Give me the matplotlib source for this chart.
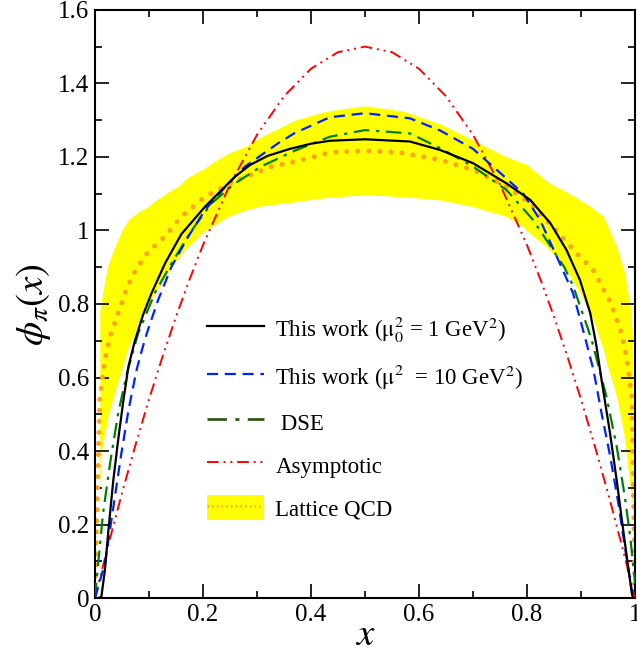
import matplotlib
matplotlib.use("Agg")
import matplotlib.pyplot as plt
from matplotlib.lines import Line2D
from matplotlib.patches import Patch

plt.rcParams['font.family'] = ['Liberation Serif', 'DejaVu Serif']
plt.rcParams['mathtext.fontset'] = 'stix'

# Lattice QCD band (upper / lower edges)
band_x = [0.009, 0.012, 0.0185, 0.025, 0.037, 0.05, 0.062, 0.08, 0.099, 0.111, 0.142, 0.154, 0.173, 0.204,
          0.216, 0.247, 0.278, 0.309, 0.37, 0.43, 0.5, 0.57, 0.639, 0.70, 0.762, 0.793, 0.799, 0.836, 0.843,
          0.873, 0.898, 0.923, 0.935, 0.941, 0.947, 0.966, 0.981, 0.991, 0.995]
band_hi = [0.78, 0.81, 0.865, 0.91, 0.956, 1.0, 1.029, 1.05, 1.065, 1.08, 1.11, 1.12, 1.145, 1.17,
           1.183, 1.21, 1.228, 1.255, 1.30, 1.325, 1.339, 1.325, 1.29, 1.246, 1.20, 1.183, 1.18, 1.135, 1.128,
           1.105, 1.083, 1.06, 1.045, 1.038, 1.02, 0.956, 0.884, 0.793, 0.72]
band_lo = [0.30, 0.40, 0.45, 0.50, 0.56, 0.625, 0.684, 0.738, 0.80, 0.83, 0.902, 0.925, 0.956, 1.0,
           1.01, 1.038, 1.055, 1.067, 1.078, 1.09, 1.097, 1.092, 1.083, 1.065, 1.038, 1.01, 1.0, 0.956, 0.945,
           0.893, 0.83, 0.756, 0.702, 0.68, 0.64, 0.548, 0.43, 0.30, 0.25]

# Lattice QCD central value
lat_x = [0.0, 0.009, 0.0185, 0.029, 0.043, 0.059, 0.077, 0.099, 0.13, 0.16, 0.204, 0.259, 0.327, 0.37, 0.435, 0.5,
         0.565, 0.639, 0.70, 0.762, 0.806, 0.848, 0.892, 0.922, 0.954, 0.975, 0.985, 0.994, 1.0]
lat_y = [0.0, 0.544, 0.65, 0.716, 0.775, 0.843, 0.897, 0.943, 0.984, 1.038, 1.092, 1.134, 1.174, 1.187, 1.212, 1.217,
         1.212, 1.192, 1.165, 1.12, 1.074, 1.01, 0.938, 0.893, 0.806, 0.72, 0.65, 0.545, 0.0]

# Asymptotic DA
asy_x = [0.0, 0.025, 0.05, 0.075, 0.1, 0.125, 0.15, 0.175, 0.2, 0.25, 0.3, 0.35, 0.4, 0.45, 0.5,
         0.55, 0.6, 0.65, 0.7, 0.75, 0.8, 0.825, 0.85, 0.875, 0.9, 0.925, 0.95, 0.975, 1.0]
asy_y = [0.0, 0.146, 0.285, 0.416, 0.54, 0.656, 0.765, 0.866, 0.96, 1.125, 1.26, 1.365, 1.44, 1.485, 1.5,
         1.485, 1.44, 1.365, 1.26, 1.125, 0.96, 0.866, 0.765, 0.656, 0.54, 0.416, 0.285, 0.146, 0.0]

# This work, mu0^2 = 1 GeV^2
w1_x = [0.0, 0.006, 0.012, 0.0185, 0.025, 0.034, 0.043, 0.052, 0.062, 0.074, 0.089, 0.105, 0.13, 0.16, 0.204,
        0.259, 0.287, 0.32, 0.361, 0.40, 0.435, 0.5, 0.583, 0.639, 0.70, 0.762, 0.806, 0.843, 0.873, 0.898,
        0.917, 0.928, 0.938, 0.954, 0.966, 0.978, 0.988, 0.994, 0.996, 1.0]
w1_y = [0.0, 0.0, 0.004, 0.076, 0.185, 0.32, 0.43, 0.53, 0.63, 0.70, 0.77, 0.83, 0.911, 0.99, 1.065,
        1.146, 1.178, 1.203, 1.222, 1.236, 1.244, 1.248, 1.242, 1.219, 1.183, 1.128, 1.083, 1.02, 0.947, 0.865,
        0.775, 0.69, 0.593, 0.445, 0.32, 0.185, 0.076, 0.013, 0.0, 0.0]

# This work, mu^2 = 10 GeV^2
w10_x = [0.0, 0.0185, 0.037, 0.049, 0.062, 0.077, 0.087, 0.096, 0.117, 0.142, 0.173, 0.204, 0.247, 0.278, 0.34,
         0.37, 0.435, 0.5, 0.583, 0.639, 0.70, 0.75, 0.793, 0.824, 0.855, 0.885, 0.907, 0.923, 0.938,
         0.954, 0.969, 0.981, 0.994, 1.0]
w10_y = [0.0, 0.094, 0.276, 0.394, 0.51, 0.62, 0.675, 0.72, 0.811, 0.902, 0.984, 1.056, 1.128, 1.174, 1.238,
         1.265, 1.308, 1.319, 1.305, 1.272, 1.222, 1.157, 1.10, 1.029, 0.929, 0.83, 0.711, 0.62, 0.502,
         0.385, 0.258, 0.14, 0.02, 0.0]

# DSE
dse_x = [0.0, 0.006, 0.015, 0.028, 0.043, 0.059, 0.080, 0.111, 0.142, 0.179, 0.216, 0.259, 0.309, 0.37,
         0.435, 0.5, 0.583, 0.639, 0.70, 0.762, 0.811, 0.848, 0.869, 0.885, 0.911, 0.92, 0.947, 0.966, 0.981,
         0.991, 1.0]
dse_y = [0.0, 0.094, 0.23, 0.366, 0.502, 0.61, 0.72, 0.83, 0.911, 1.0, 1.074, 1.128, 1.175, 1.217,
         1.255, 1.273, 1.264, 1.224, 1.174, 1.11, 1.029, 0.947, 0.90, 0.85, 0.74, 0.70, 0.548, 0.412, 0.276,
         0.167, 0.04]

labels = ["This work ($\\mathrm{\\mu_0^2}$ = 1 GeV$^2$)",
          "This work ($\\mathrm{\\mu^2}$  = 10 GeV$^2$)",
          " DSE", "Asymptotic", "Lattice QCD"]

fig = plt.figure(figsize=(6.37, 6.58), dpi=100)
ax = fig.add_axes([0.149, 0.091, 0.848, 0.894])

ax.fill_between(band_x, band_lo, band_hi, color='#ffff00', lw=0, zorder=1)
l_lat, = ax.plot(lat_x, lat_y, color='#ffa31a', lw=3.6, linestyle=(0, (0.01, 2.2)),
                 dash_capstyle='round', zorder=2)
l_asy, = ax.plot(asy_x, asy_y, color='#ff0000', lw=1.4, linestyle=(0, (6, 2.5, 1, 2.5, 1, 2.5)), zorder=3)
l_dse, = ax.plot(dse_x, dse_y, color='#008000', lw=1.6, linestyle=(0, (7, 3, 1.5, 3)), zorder=4)
l_10, = ax.plot(w10_x, w10_y, color='#0022ff', lw=1.6, linestyle=(0, (5, 3)), zorder=5)
l_1, = ax.plot(w1_x, w1_y, color='black', lw=1.6, zorder=6)

ax.set_xlim(0, 1)
ax.set_ylim(0, 1.6)
ax.set_xticks([0, 0.2, 0.4, 0.6, 0.8, 1.0])
ax.set_xticklabels(['0', '0.2', '0.4', '0.6', '0.8', '1'])
ax.set_yticks([0, 0.2, 0.4, 0.6, 0.8, 1.0, 1.2, 1.4, 1.6])
ax.set_yticklabels(['0', '0.2', '0.4', '0.6', '0.8', '1', '1.2', '1.4', '1.6'])
ax.set_xticks([0.1, 0.3, 0.5, 0.7, 0.9], minor=True)
ax.set_yticks([0.1, 0.3, 0.5, 0.7, 0.9, 1.1, 1.3, 1.5], minor=True)
ax.tick_params(which='both', direction='in', top=True, right=True, labelsize=18)
ax.tick_params(which='major', length=10, width=1.2, pad=4)
ax.tick_params(which='minor', length=5, width=1.2)
for s in ax.spines.values():
    s.set_linewidth(1.5)

ax.set_xlabel('$x$', fontsize=28, labelpad=-6)
ax.set_ylabel('$\\phi_\\pi(x)$', fontsize=28, labelpad=4)

h_lat = (Patch(facecolor='#ffff00', edgecolor='none'),
         Line2D([], [], color='#ffa31a', lw=2.0, linestyle=(0, (0.5, 1.2))))
h_dse = Line2D([], [], color='#2d5a1b', lw=2.0, linestyle=(0, (7, 3, 1.5, 3)))
leg = ax.legend([l_1, l_10, h_dse, l_asy, h_lat], labels,
                loc='upper left', bbox_to_anchor=(0.207, 0.483), frameon=False,
                borderpad=0, borderaxespad=0,
                fontsize=16.5, labelspacing=0.78, handlelength=2.5, handletextpad=0.5,
                handleheight=1.3)

fig.savefig('out.png', dpi=100)
